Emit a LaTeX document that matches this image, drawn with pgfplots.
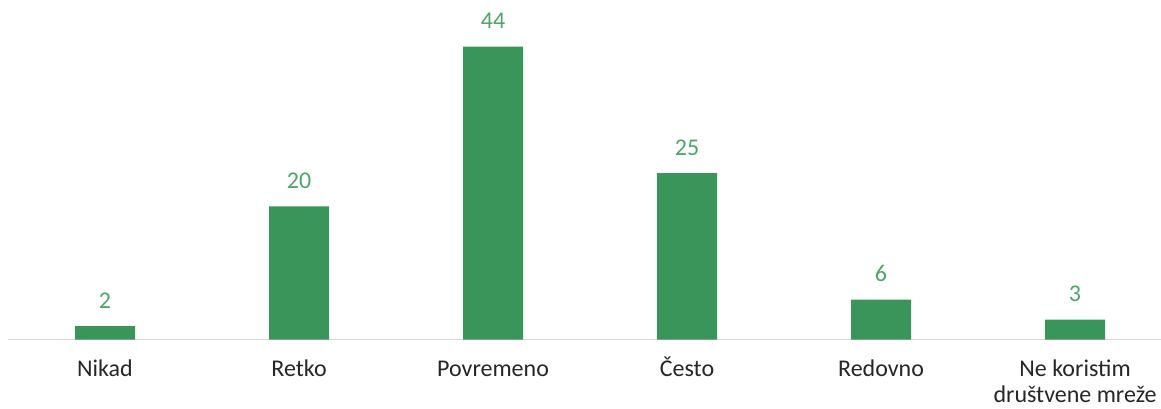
\documentclass[border=0pt]{standalone}
\usepackage{pgfplots}
\pgfplotsset{compat=1.18}
\usepackage{fontspec}
\setmainfont{Carlito}
\definecolor{barg}{HTML}{3A955B}
\definecolor{labg}{HTML}{4CA56A}
\definecolor{axg}{HTML}{D9D9D9}
\definecolor{txt}{HTML}{262626}
\newcommand\twoline[2]{\vtop{\baselineskip=13pt\halign{\hfil##\hfil\cr#1\cr#2\cr}}}
\begin{document}
\begin{tikzpicture}
\useasboundingbox (-4pt,-34.25pt) rectangle (576.5pt,169.75pt);
\begin{axis}[
  at={(0,0)}, anchor=south west,
  scale only axis,
  width=576.5pt, height=169.75pt,
  xmin=-0.5, xmax=5.443,
  ymin=0, ymax=51,
  axis x line*=bottom,
  axis y line=none,
  x axis line style={axg, line width=0.8pt, -},
  xtick={0,1,2,3,4,5},
  xticklabels={Nikad,Retko,Povremeno,Često,Redovno,{\twoline{Ne koristim}{društvene mreže}}},
  xticklabel style={font=\fontsize{12}{14}\selectfont, text=txt, inner sep=0pt, anchor=base, yshift=-18.5pt},
  major tick length=0pt,
  /pgf/number format/assume math mode=true,
  ybar, bar width=30pt,
  nodes near coords,
  every node near coord/.append style={font=\fontsize{12}{14.6}\selectfont, text=labg, inner sep=0pt, anchor=base, yshift=9pt},
  clip=false,
]
\addplot[fill=barg, draw=none] coordinates {(0,2) (1,20) (2,44) (3,25) (4,6) (5,3)};
\end{axis}
\end{tikzpicture}
\end{document}
